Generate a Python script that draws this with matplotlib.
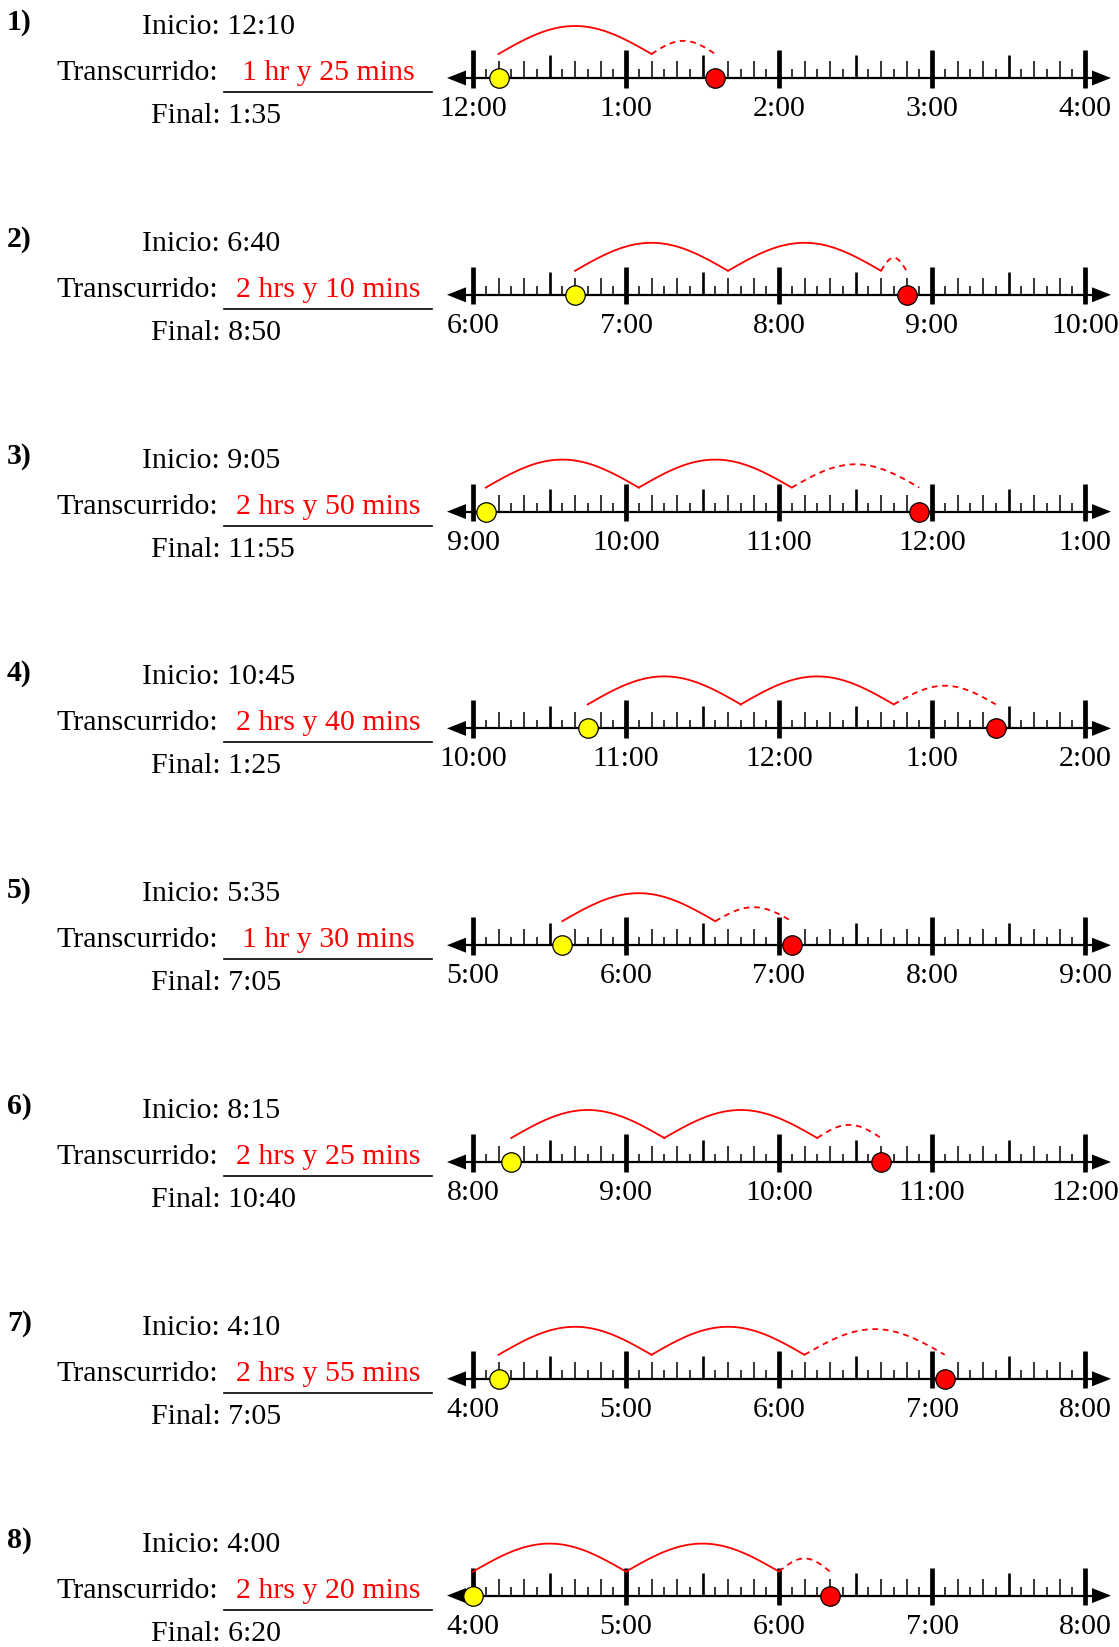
import numpy as np
import matplotlib
matplotlib.use('Agg')
import matplotlib.pyplot as plt

plt.rcParams['font.family'] = ['Liberation Serif', 'DejaVu Serif']

# datos de cada ejercicio
starts = ['12:10', '6:40', '9:05', '10:45', '5:35', '8:15', '4:10', '4:00']
elapsed_h = [1, 2, 2, 2, 1, 2, 2, 2]
elapsed_m = [25, 10, 50, 40, 30, 25, 55, 20]
finals = ['1:35', '8:50', '11:55', '1:25', '7:05', '10:40', '7:05', '6:20']
first_hour = [12, 6, 9, 10, 5, 8, 4, 4]

W, H = 1119, 1647
X0, HOUR = 473, 153          # pixel of first hour tick, pixels per hour
ROW0, ROWSTEP = 78, 216.8    # pixel of first number line, row spacing
FS = 21.5
RED = '#ff0000'


def px2min(px):
    return (px - X0) / HOUR * 60


def minutes_from(t, base):
    hh, mm = (int(v) for v in t.split(':'))
    return ((hh - base) % 12) * 60 + mm


def hour_label(h):
    return '%d:00' % ((h - 1) % 12 + 1)


fig = plt.figure(figsize=(W / 100, H / 100), dpi=100)
bg = fig.add_axes([0, 0, 1, 1])
bg.set_xlim(0, W)
bg.set_ylim(H, 0)
bg.axis('off')

for i in range(len(starts)):
    y0 = ROW0 + i * ROWSTEP

    # texto de la izquierda
    bg.text(7, y0 - 48, '%d)' % (i + 1), fontsize=FS, weight='bold', va='baseline')
    bg.text(142, y0 - 44, 'Inicio: ' + starts[i], fontsize=FS, va='baseline')
    bg.text(218, y0 + 2, 'Transcurrido:', fontsize=FS, ha='right', va='baseline')
    h, m = elapsed_h[i], elapsed_m[i]
    txt = '%d %s y %d mins' % (h, 'hr' if h == 1 else 'hrs', m)
    bg.text(328, y0 + 2, txt, fontsize=FS, ha='center', va='baseline', color=RED)
    bg.plot([224, 432], [y0 + 14, y0 + 14], color='black', lw=1.2)
    bg.text(151, y0 + 45, 'Final: ' + finals[i], fontsize=FS, va='baseline')

    # recta numérica
    left, right = 430, W
    top, bottom = y0 - 62, y0 + 50
    ax = fig.add_axes([left / W, 1 - bottom / H, (right - left) / W, (bottom - top) / H])
    ax.set_xlim(px2min(left), px2min(right))
    ax.set_ylim(-50, 62)
    ax.axis('off')

    ax.plot([px2min(455), px2min(1100)], [0, 0], color='black', lw=1.6, solid_capstyle='butt')
    ax.fill([px2min(447), px2min(466), px2min(466)], [0, 7.5, -7.5], color='black', lw=0)
    ax.fill([px2min(1111), px2min(1092), px2min(1092)], [0, 7.5, -7.5], color='black', lw=0)

    for t in range(0, 241, 5):
        if t % 60 == 0:
            ax.plot([t, t], [-9.5, 28], color='black', lw=3.4, solid_capstyle='butt')
            ax.text(t, -38, hour_label(first_hour[i] + t // 60), fontsize=FS,
                    ha='center', va='baseline', clip_on=False)
        elif t % 30 == 0:
            ax.plot([t, t], [0, 22.5], color='black', lw=1.9, solid_capstyle='butt')
        elif t % 10 == 0:
            ax.plot([t, t], [0, 16.5], color='black', lw=1.1, solid_capstyle='butt')
        else:
            ax.plot([t, t], [0, 8.5], color='black', lw=1.1, solid_capstyle='butt')

    s = minutes_from(starts[i], first_hour[i])
    e = s + 60 * h + m

    # saltos de una hora y el resto punteado
    yb, arc_h = 24, 28
    u = np.linspace(0, 1, 80)
    for k in range(h):
        a = s + 60 * k
        ax.plot(a + 60 * u, yb + arc_h * np.sin(np.pi * u), color=RED, lw=1.3)
    a = s + 60 * h
    hh = arc_h * max(0.47, m / 60)
    ax.plot(a + (e - a) * u, yb + hh * np.sin(np.pi * u), color=RED, lw=1.3,
            dashes=(3.2, 2.6))

    ax.plot([s], [0], 'o', ms=14, mfc='#ffff00', mec='black', mew=0.9, zorder=5)
    ax.plot([e], [0], 'o', ms=14, mfc=RED, mec='black', mew=0.9, zorder=5)

fig.savefig('out.png', dpi=100)
